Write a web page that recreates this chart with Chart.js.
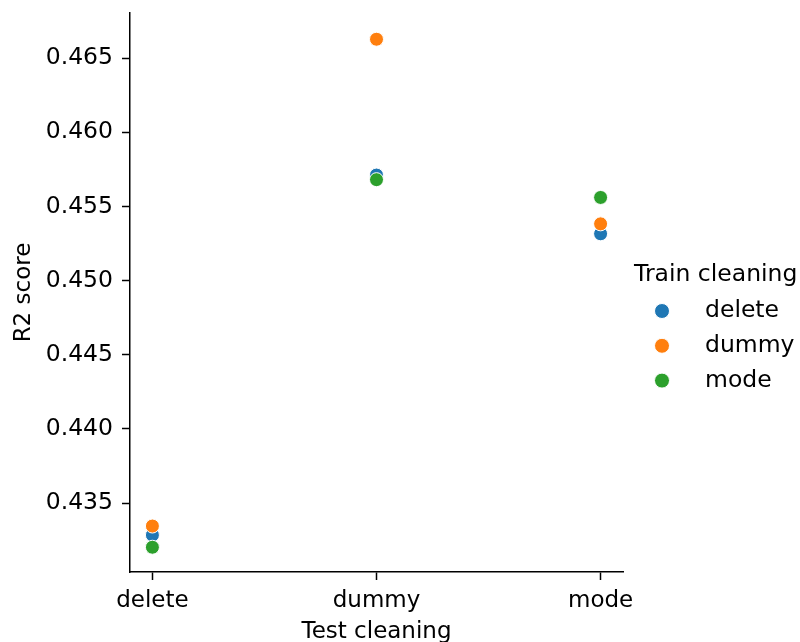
<!DOCTYPE html>
<html>
<head>
<meta charset="utf-8">
<script src="https://cdn.jsdelivr.net/npm/chart.js@4"></script>
<style>
  body { margin: 0; background: #fff; }
  #wrap { width: 800px; height: 642px; }
</style>
</head>
<body>
<div id="wrap"><canvas id="chart"></canvas></div>
<script>
// Data
const testCleaning = ['delete', 'dummy', 'mode'];
const trainCleaning = ['delete', 'dummy', 'mode'];
const r2Delete = [0.43284, 0.45712, 0.45316];
const r2Dummy = [0.43345, 0.46628, 0.45383];
const r2Mode = [0.43202, 0.45681, 0.45561];
const yTicks = [0.435, 0.440, 0.445, 0.450, 0.455, 0.460, 0.465];

const colors = ['#1f77b4', '#ff7f0e', '#2ca02c'];
const FONT = 'DejaVu Sans';

function toPoints(vals) {
  return vals.map((v, i) => ({ x: i, y: v }));
}

// seaborn-style legend drawn at the right
const sideLegend = {
  id: 'sideLegend',
  afterDraw(chart) {
    const ctx = chart.ctx;
    ctx.save();
    ctx.fillStyle = '#000';
    ctx.font = `23.5px "${FONT}"`;
    ctx.textBaseline = 'middle';
    ctx.textAlign = 'left';
    ctx.fillText('Train cleaning', 634, 275);
    chart.data.datasets.forEach((ds, i) => {
      const y = 311 + i * 34.8;
      ctx.beginPath();
      ctx.arc(662, y, 7.5, 0, Math.PI * 2);
      ctx.fillStyle = ds.backgroundColor;
      ctx.fill();
      ctx.strokeStyle = '#fff';
      ctx.lineWidth = 1;
      ctx.stroke();
      ctx.fillStyle = '#000';
      ctx.fillText(ds.label, 705, y);
    });
    ctx.restore();
  }
};

const datasets = [r2Delete, r2Dummy, r2Mode].map((vals, i) => ({
  label: trainCleaning[i],
  data: toPoints(vals),
  backgroundColor: colors[i],
  borderColor: '#fff',
  borderWidth: 1,
  pointRadius: 7,
  pointHoverRadius: 7,
  order: 3 - i
}));

new Chart(document.getElementById('chart'), {
  type: 'scatter',
  data: { datasets: datasets },
  options: {
    responsive: true,
    maintainAspectRatio: false,
    animation: false,
    layout: { padding: { left: 6, right: 177, top: 13, bottom: 0 } },
    plugins: { legend: { display: false }, tooltip: { enabled: false } },
    scales: {
      x: {
        type: 'linear',
        min: -0.1,
        max: 2.1,
        afterBuildTicks: (scale) => { scale.ticks = testCleaning.map((c, i) => ({ value: i })); },
        afterFit: (scale) => { scale.height = 70; scale.paddingLeft = 0; scale.paddingRight = 0; },
        ticks: {
          callback: (v) => testCleaning[v],
          color: '#000',
          font: { family: FONT, size: 23 },
          padding: 7,
          maxRotation: 0
        },
        grid: { display: true, drawOnChartArea: false, tickLength: 8, tickColor: '#000', tickWidth: 1.5 },
        border: { display: true, color: '#000', width: 1.5 },
        title: { display: true, text: 'Test cleaning', color: '#000', font: { family: FONT, size: 23 }, padding: { top: 0, bottom: -4 } }
      },
      y: {
        type: 'linear',
        min: 0.43035,
        max: 0.46805,
        afterBuildTicks: (scale) => { scale.ticks = yTicks.map(v => ({ value: v })); },
        afterFit: (scale) => { scale.width = 124; scale.paddingTop = 0; scale.paddingBottom = 0; },
        ticks: {
          callback: (v) => v.toFixed(3),
          color: '#000',
          font: { family: FONT, size: 23.5 },
          padding: 9
        },
        grid: { display: true, drawOnChartArea: false, tickLength: 8, tickColor: '#000', tickWidth: 1.5 },
        border: { display: true, color: '#000', width: 1.5 },
        title: { display: true, text: 'R2 score', color: '#000', font: { family: FONT, size: 23 }, padding: { bottom: 0 } }
      }
    }
  },
  plugins: [sideLegend]
});
</script>
</body>
</html>
